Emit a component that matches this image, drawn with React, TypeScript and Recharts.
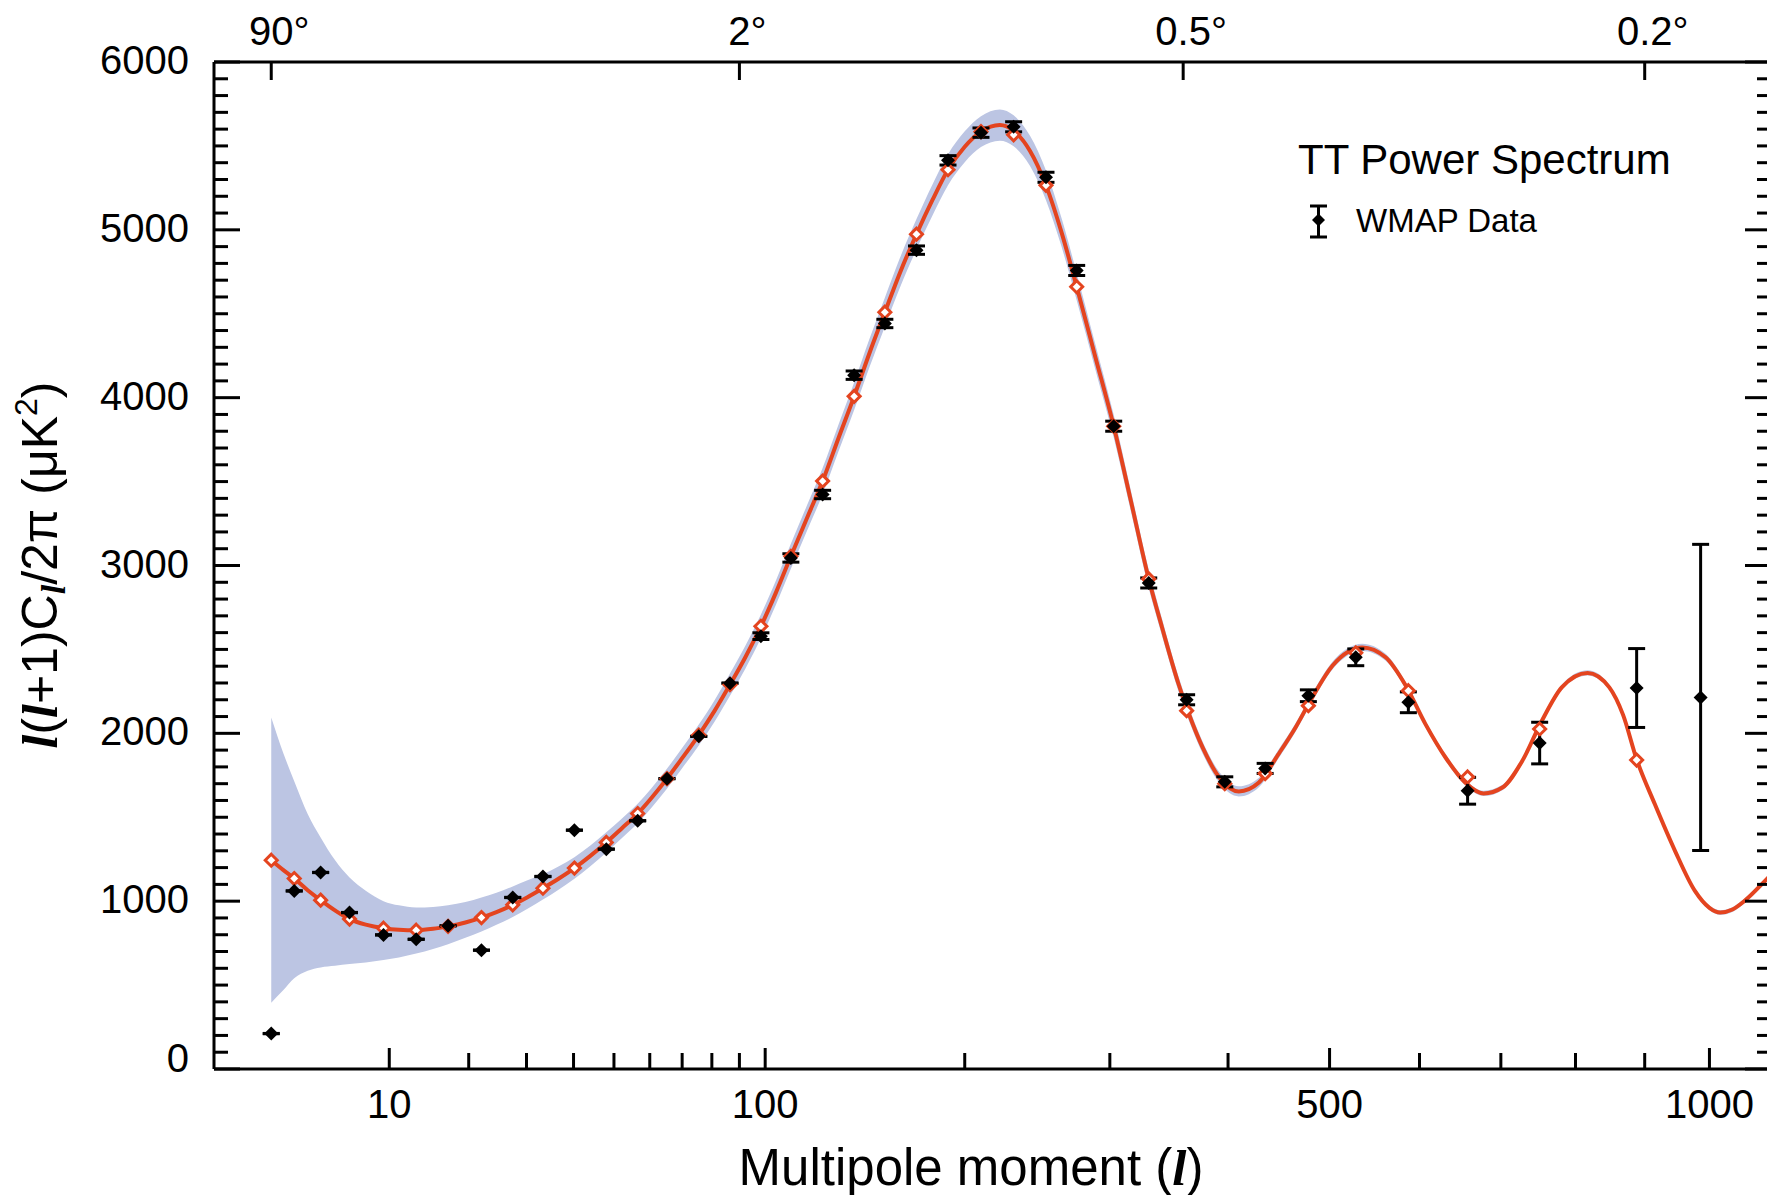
import { Area, ComposedChart, ErrorBar, Line, Scatter, XAxis, YAxis } from "recharts";

// the multipole axis of the WMAP plot is stretched as l^0.4
const AXIS_POW = 0.4;
const toU = (l: number) => Math.pow(l, AXIS_POW);
const fromU = (u: number) => Math.pow(u, 1 / AXIS_POW);

// WMAP binned data points
const dataEll = [2, 3, 4.46, 6.47, 9.43, 12.93, 17, 22, 27.4, 33.3, 40.2, 48, 56.5, 65.2, 75.5, 86.5, 98.3, 110.6, 124.6, 139.5, 155, 172, 190, 210, 231, 253, 275, 303, 331, 363, 397, 435, 478, 528, 587, 658, 751, 888, 986];
const dataPower = [211, 1061, 1171, 932, 799, 773, 853, 708, 1022, 1147, 1423, 1310, 1479, 1730, 1982, 2299, 2579, 3045, 3423, 4134, 4442, 4879, 5414, 5579, 5614, 5313, 4758, 3830, 2896, 2200, 1711, 1791, 2224, 2453, 2185, 1658, 1942, 2270, 2214];
const dataError = [1, 1, 1, 1, 1, 1, 1, 1, 1, 1, 1, 1, 1, 1, 1, 1, 20, 25, 25, 25, 25, 25, 28, 28, 30, 30, 30, 30, 30, 30, 30, 30, 35, 50, 62, 80, 124, 235, 912];

// binned model values (open red diamonds), same bins as the data up to l=888
const binPower = [1244, 1135, 1006, 893, 839, 827, 850, 902, 978, 1077, 1197, 1350, 1522, 1730, 1990, 2290, 2638, 3055, 3503, 4008, 4509, 4974, 5358, 5585, 5566, 5265, 4661, 3830, 2920, 2135, 1700, 1760, 2165, 2480, 2254, 1740, 2026, 1841];

// best-fit model curve and cosmic variance band
const modelEll = [2, 2.5, 3, 3.7, 4.46, 5.4, 6.47, 7.8, 9.43, 11, 12.93, 15, 17, 19.5, 22, 24.5, 27.4, 30.2, 33.3, 36.7, 40.2, 44, 48, 52, 56.5, 60.5, 65, 70, 75.5, 81, 86.5, 92.3, 98.3, 104.4, 110.6, 117.5, 124.6, 132, 139.5, 147, 155, 163, 172, 181, 190, 200, 210, 222, 231, 242, 253, 264, 275, 289, 303, 317, 331, 342, 356, 365, 377, 392, 410, 429, 448, 465, 482, 503, 535, 561, 584, 607, 631, 655, 678, 702, 728, 754, 781, 817, 848, 868, 888, 915, 946, 977, 1000, 1017, 1037, 1057, 1091, 1101];
const modelPower = [1244, 1185, 1135, 1065, 1006, 945, 893, 860, 839, 830, 827, 835, 850, 873, 902, 935, 978, 1024, 1077, 1135, 1197, 1270, 1350, 1432, 1522, 1615, 1725, 1852, 1990, 2135, 2290, 2455, 2638, 2840, 3055, 3280, 3503, 3760, 4008, 4262, 4509, 4745, 4974, 5178, 5358, 5495, 5585, 5624, 5590, 5470, 5265, 4985, 4661, 4240, 3830, 3370, 2920, 2632, 2294, 2115, 1916, 1737, 1654, 1707, 1876, 2035, 2214, 2403, 2512, 2453, 2284, 2055, 1856, 1707, 1642, 1677, 1837, 2075, 2274, 2360, 2274, 2110, 1845, 1580, 1300, 1061, 960, 932, 950, 1002, 1121, 1157];
const bandLow = [395, 470, 540, 585, 605, 615, 625, 635, 650, 665, 688, 715, 744, 782, 820, 860, 905, 955, 1010, 1070, 1134, 1208, 1290, 1374, 1464, 1557, 1666, 1792, 1928, 2071, 2224, 2387, 2568, 2768, 2981, 3204, 3425, 3680, 3926, 4178, 4423, 4657, 4884, 5086, 5266, 5403, 5493, 5531, 5498, 5380, 5177, 4900, 4580, 4165, 3762, 3308, 2864, 2582, 2250, 2075, 1880, 1705, 1624, 1679, 1850, 2010, 2190, 2380, 2490, 2432, 2264, 2036, 1838, 1690, 1626, 1661, 1821, 2059, 2258, 2344, 2258, 2094, 1829, 1566, 1286, 1047, 946, 918, 936, 988, 1107, 1143];
const bandHigh = [2095, 1880, 1715, 1520, 1380, 1245, 1141, 1062, 1000, 975, 962, 965, 975, 995, 1022, 1050, 1088, 1125, 1160, 1208, 1262, 1332, 1410, 1490, 1580, 1673, 1784, 1912, 2052, 2199, 2356, 2523, 2708, 2912, 3129, 3356, 3581, 3840, 4090, 4346, 4595, 4833, 5064, 5270, 5450, 5587, 5677, 5717, 5682, 5560, 5353, 5070, 4742, 4315, 3898, 3432, 2976, 2682, 2338, 2155, 1952, 1769, 1684, 1735, 1902, 2060, 2238, 2426, 2534, 2474, 2304, 2074, 1874, 1724, 1658, 1693, 1853, 2091, 2290, 2376, 2290, 2126, 1861, 1594, 1314, 1075, 974, 946, 964, 1016, 1135, 1171];

const bottomTickEll = [10, 20, 30, 40, 50, 60, 70, 80, 90, 100, 200, 300, 400, 500, 600, 700, 800, 900, 1000];
const bottomLabelEll = [10, 100, 500, 1000];
const topTickEll = [2, 90, 360, 900];
const topTickLabel = ["90", "2", "0.5", "0.2"];
const powerTicks = Array.from({ length: 61 }, (_, i) => i * 100);

const points = dataEll.map((l, i) => ({ u: toU(l), v: dataPower[i], err: dataError[i] }));
const bins = binPower.map((v, i) => ({ u: toU(dataEll[i]), v }));
const model = modelEll.map((l, i) => ({ u: toU(l), v: modelPower[i], band: [bandLow[i], bandHigh[i]] }));

const RED = "#E4441F";
const BAND = "#BCC5E3";
const FONT = "'Liberation Sans', Arial, Helvetica, sans-serif";

function LeftTick(props: any) {
  const { x, y, payload } = props;
  const major = payload.value % 1000 === 0;
  return (
    <g>
      <line x1={x} x2={x + (major ? 26 : 14)} y1={y} y2={y} stroke="#000" strokeWidth={3} />
      {major && (
        <text x={x - 25} y={y + (payload.value === 0 ? 3 : 12)} textAnchor="end" fontSize={40} fontFamily={FONT} fill="#000">
          {payload.value}
        </text>
      )}
    </g>
  );
}

function RightTick(props: any) {
  const { x, y, payload } = props;
  const major = payload.value % 1000 === 0;
  return <line x1={x} x2={x - (major ? 26 : 14)} y1={y} y2={y} stroke="#000" strokeWidth={3} />;
}

function BottomTick(props: any) {
  const { x, y, payload } = props;
  const ell = Math.round(fromU(payload.value));
  const major = bottomLabelEll.includes(ell);
  return (
    <g>
      <line x1={x} x2={x} y1={y} y2={y - (major ? 21 : 16)} stroke="#000" strokeWidth={3} />
      {major && (
        <text x={x} y={y + 49} textAnchor="middle" fontSize={40} fontFamily={FONT} fill="#000">
          {ell}
        </text>
      )}
    </g>
  );
}

function TopTick(props: any) {
  const { x, y, index } = props;
  const label = topTickLabel[index];
  // number centred on the tick, degree sign hangs off the right
  const w = label.split("").reduce((s: number, c: string) => s + (c === "." ? 0.278 : 0.556), 0) * 40;
  return (
    <g>
      <line x1={x} x2={x} y1={y} y2={y + 18} stroke="#000" strokeWidth={3} />
      <text x={x - w / 2} y={y - 17} textAnchor="start" fontSize={40} fontFamily={FONT} fill="#000">
        {label}°
      </text>
    </g>
  );
}

function DataDiamond(props: any) {
  const { cx, cy } = props;
  return <path d={`M${cx},${cy - 7}L${cx + 7},${cy}L${cx},${cy + 7}L${cx - 7},${cy}Z`} fill="#000" />;
}

function ModelDiamond(props: any) {
  const { cx, cy } = props;
  return <path d={`M${cx},${cy - 6}L${cx + 6},${cy}L${cx},${cy + 6}L${cx - 6},${cy}Z`} fill="#fff" stroke={RED} strokeWidth={3} />;
}

const italicL = { fontFamily: "'Liberation Serif', 'Times New Roman', serif", fontStyle: "italic", fontWeight: "bold" } as const;
const axisLine = { stroke: "#000", strokeWidth: 3 };

export default function App() {
  const uMin = toU(0.473);
  const uMax = toU(1101);
  return (
    <div style={{ position: "absolute", left: 0, top: 0, width: 1767, height: 1195, overflow: "hidden", background: "#fff", fontFamily: FONT }}>
      <ComposedChart width={1801} height={1195} data={model} margin={{ top: 32, right: 0, bottom: 96, left: 184 }}>
        <XAxis xAxisId="b" dataKey="u" type="number" domain={[uMin, uMax]} allowDataOverflow ticks={bottomTickEll.map(toU)} interval={0} height={30} tickSize={0} tickMargin={0} tick={<BottomTick />} axisLine={axisLine} />
        <XAxis xAxisId="t" orientation="top" dataKey="u" type="number" domain={[uMin, uMax]} allowDataOverflow ticks={topTickEll.map(toU)} interval={0} height={30} tickSize={0} tickMargin={0} tick={<TopTick />} axisLine={axisLine} />
        <YAxis yAxisId="l" type="number" domain={[0, 6000]} allowDataOverflow ticks={powerTicks} interval={0} width={30} tickSize={0} tickMargin={0} tick={<LeftTick />} axisLine={axisLine} />
        <YAxis yAxisId="r" orientation="right" type="number" domain={[0, 6000]} allowDataOverflow ticks={powerTicks} interval={0} width={30} tickSize={0} tickMargin={0} tick={<RightTick />} axisLine={axisLine} />
        <Area xAxisId="b" yAxisId="l" dataKey="band" type="monotone" fill={BAND} fillOpacity={1} stroke="none" isAnimationActive={false} />
        <Line xAxisId="b" yAxisId="l" dataKey="v" type="monotone" stroke={RED} strokeWidth={4} dot={false} isAnimationActive={false} />
        <Scatter xAxisId="b" yAxisId="l" data={bins} dataKey="v" shape={<ModelDiamond />} isAnimationActive={false} />
        <Scatter xAxisId="b" yAxisId="l" data={points} dataKey="v" shape={<DataDiamond />} isAnimationActive={false}>
          <ErrorBar dataKey="err" direction="y" width={8.5} strokeWidth={3} stroke="#000" isAnimationActive={false} />
        </Scatter>
      </ComposedChart>
      <svg width={1767} height={1195} style={{ position: "absolute", left: 0, top: 0, pointerEvents: "none" }}>
        <text transform="translate(57,565) rotate(-90)" textAnchor="middle" fontSize={50} fontFamily={FONT} fill="#000">
          <tspan {...italicL}>l</tspan>
          <tspan>(</tspan>
          <tspan {...italicL}>l</tspan>
          <tspan>+1)C</tspan>
          <tspan {...italicL} fontSize={34} dy={8}>l</tspan>
          <tspan dy={-8}>/2π (μK</tspan>
          <tspan fontSize={32} dy={-20}>2</tspan>
          <tspan dy={20}>)</tspan>
        </text>
        <text x={971} y={1185} textAnchor="middle" fontSize={51} fontFamily={FONT} fill="#000">
          Multipole moment (<tspan {...italicL}>l</tspan>)
        </text>
        <text x={1298} y={174} fontSize={42} fontFamily={FONT} fill="#000">TT Power Spectrum</text>
        <line x1={1318.5} x2={1318.5} y1={206} y2={237} stroke="#000" strokeWidth={3} />
        <line x1={1310} x2={1327} y1={206} y2={206} stroke="#000" strokeWidth={3} />
        <line x1={1310} x2={1327} y1={237} y2={237} stroke="#000" strokeWidth={3} />
        <path d="M1318.5,213.5L1325,220L1318.5,226.5L1312,220Z" fill="#000" />
        <text x={1356} y={232} fontSize={33} fontFamily={FONT} fill="#000">WMAP Data</text>
      </svg>
    </div>
  );
}
